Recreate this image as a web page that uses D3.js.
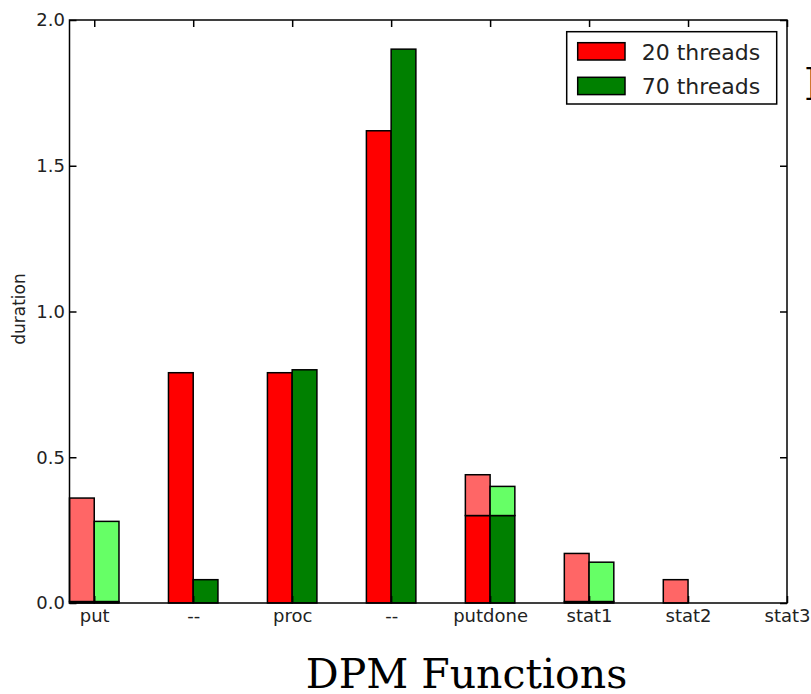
<!DOCTYPE html>
<html>
<head>
<meta charset="utf-8">
<script src="https://cdn.jsdelivr.net/npm/d3@7"></script>
<style>
body { margin: 0; background: #fff; }
svg { display: block; }
</style>
</head>
<body>
<script>
// categories along the x axis
var cats = ["put", "--", "proc", "--", "putdone", "stat1", "stat2", "stat3"];
// dark (base) part and full height of each bar
var base20  = [0.005, 0.79, 0.79, 1.62, 0.30, 0.005, 0, 0];
var total20 = [0.36, 0.79, 0.79, 1.62, 0.44, 0.17, 0.08, 0];
var base70  = [0.005, 0.08, 0.80, 1.90, 0.30, 0.005, 0, 0];
var total70 = [0.28, 0.08, 0.80, 1.90, 0.40, 0.14, 0, 0];
var yTicks = [0, 0.5, 1.0, 1.5, 2.0];
var seriesNames = ["20 threads", "70 threads"];

var W = 811, H = 694;
var svg = d3.select("body").append("svg")
	.attr("width", W)
	.attr("height", H)
	.attr("xmlns", "http://www.w3.org/2000/svg");

var pL = 69.5, pR = 787, pT = 20, pB = 603;
var barW = 0.25;
var x = d3.scaleLinear().domain([-0.25, 7]).range([pL, pR]);
var y = d3.scaleLinear().domain([0, 2]).range([pB, pT]);

var series = [
	{off: -barW, base: base20, total: total20, dark: "#ff0000", light: "#ff6666"},
	{off: 0, base: base70, total: total70, dark: "#008000", light: "#66ff66"}
];

var bars = svg.append("g");
series.forEach(function(s){
	for(var i = 0; i < cats.length; i++){
		var x0 = x(i + s.off), x1 = x(i + s.off + barW);
		if(s.base[i] > 0){
			bars.append("rect")
				.attr("x", x0).attr("width", x1 - x0)
				.attr("y", y(s.base[i])).attr("height", y(0) - y(s.base[i]))
				.attr("fill", s.dark).attr("stroke", "#000").attr("stroke-width", 1.5);
		}
		if(s.total[i] > s.base[i]){
			bars.append("rect")
				.attr("x", x0).attr("width", x1 - x0)
				.attr("y", y(s.total[i])).attr("height", y(s.base[i]) - y(s.total[i]))
				.attr("fill", s.light).attr("stroke", "#000").attr("stroke-width", 1.5);
		}
	}
});

// axes, ticks pointing inward like matplotlib
var fnt = "'DejaVu Sans', sans-serif";
var idx = d3.range(cats.length);
var gB = svg.append("g").attr("transform", "translate(0," + pB + ")")
	.call(d3.axisBottom(x).tickValues(idx).tickFormat(function(d){ return cats[d]; })
		.tickSizeInner(-7).tickSizeOuter(0).tickPadding(6));
var gT = svg.append("g").attr("transform", "translate(0," + pT + ")")
	.call(d3.axisTop(x).tickValues(idx).tickFormat("").tickSizeInner(-7).tickSizeOuter(0));
var gL = svg.append("g").attr("transform", "translate(" + pL + ",0)")
	.call(d3.axisLeft(y).tickValues(yTicks).tickFormat(d3.format(".1f"))
		.tickSizeInner(-7).tickSizeOuter(0).tickPadding(4.5));
var gR = svg.append("g").attr("transform", "translate(" + pR + ",0)")
	.call(d3.axisRight(y).tickValues(yTicks).tickFormat("").tickSizeInner(-7).tickSizeOuter(0));

[gB, gT, gL, gR].forEach(function(g){
	g.select(".domain").remove();
	g.selectAll("line").attr("stroke", "#000").attr("stroke-width", 1.5);
	g.selectAll("text").attr("font-family", fnt).attr("font-size", 18).attr("fill", "#222");
});

svg.append("rect")
	.attr("x", pL).attr("y", pT)
	.attr("width", pR - pL).attr("height", pB - pT)
	.attr("fill", "none").attr("stroke", "#000").attr("stroke-width", 1.5);

svg.append("text")
	.attr("transform", "translate(25,309) rotate(-90)")
	.attr("text-anchor", "middle")
	.attr("font-family", fnt).attr("font-size", 17).attr("fill", "#222")
	.text("duration");

// legend
var leg = svg.append("g");
leg.append("rect")
	.attr("x", 566.7).attr("y", 31.7).attr("width", 210).attr("height", 72.3)
	.attr("fill", "#fff").attr("stroke", "#000").attr("stroke-width", 1.5);
seriesNames.forEach(function(n, i){
	var yy = 42.7 + i * 34.6;
	leg.append("rect")
		.attr("x", 577.7).attr("y", yy).attr("width", 47.3).attr("height", 17.3)
		.attr("fill", series[i].dark).attr("stroke", "#000").attr("stroke-width", 1.5);
	leg.append("text")
		.attr("x", 641.7).attr("y", yy + 16.8)
		.attr("font-family", fnt).attr("font-size", 22).attr("fill", "#222")
		.text(n);
});

// slide text
svg.append("text")
	.attr("x", 466.5).attr("y", 688)
	.attr("text-anchor", "middle")
	.attr("font-family", "'DejaVu Serif', serif").attr("font-size", 41).attr("fill", "#000")
	.text("DPM Functions");
svg.append("text")
	.attr("x", 804).attr("y", 100)
	.attr("font-family", "'DejaVu Serif', serif").attr("font-size", 44).attr("fill", "#000")
	.text("I");
</script>
</body>
</html>
